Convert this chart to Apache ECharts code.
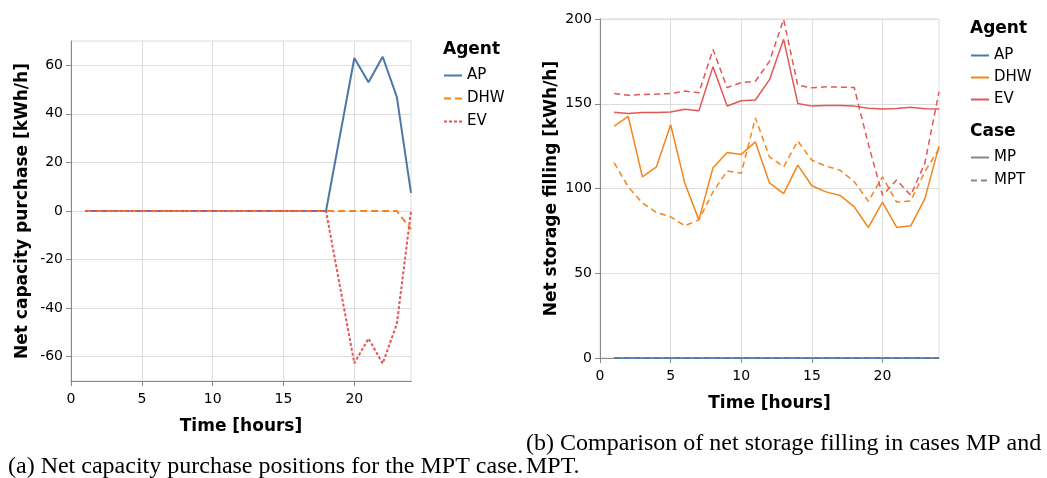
<!DOCTYPE html>
<html>
<head>
<meta charset="utf-8">
<script src="https://cdn.jsdelivr.net/npm/echarts@6/dist/echarts.min.js"></script>
<style>
  html, body { margin: 0; padding: 0; background: #fff; }
  #chart { width: 1047px; height: 478px; }
</style>
</head>
<body>
<div id="chart"></div>
<script>
// hours of the day
const hours = [1, 2, 3, 4, 5, 6, 7, 8, 9, 10, 11, 12, 13, 14, 15, 16, 17, 18, 19, 20, 21, 22, 23, 24];

// (a) net capacity purchase, MPT case
const apPurchase = [0, 0, 0, 0, 0, 0, 0, 0, 0, 0, 0, 0, 0, 0, 0, 0, 0, 0, 31.5, 63, 53, 63.5, 47, 7.5];
const dhwPurchase = [0, 0, 0, 0, 0, 0, 0, 0, 0, 0, 0, 0, 0, 0, 0, 0, 0, 0, 0, 0, 0, 0, 0, -7.5];
const evPurchase = [0, 0, 0, 0, 0, 0, 0, 0, 0, 0, 0, 0, 0, 0, 0, 0, 0, 0, -31.5, -62.7, -52.5, -62.8, -46.5, 0];

// (b) net storage filling, MP vs MPT
const apFillMP = [0, 0, 0, 0, 0, 0, 0, 0, 0, 0, 0, 0, 0, 0, 0, 0, 0, 0, 0, 0, 0, 0, 0, 0];
const apFillMPT = [0, 0, 0, 0, 0, 0, 0, 0, 0, 0, 0, 0, 0, 0, 0, 0, 0, 0, 0, 0, 0, 0, 0, 0];
const dhwFillMP = [136.8, 142.5, 106.9, 112.8, 137.6, 103.3, 81.5, 112.2, 121.2, 120.1, 127.5, 103.3, 97, 113.8, 101.6, 98, 95.9, 89.2, 77, 92, 77, 78, 94, 125];
const dhwFillMPT = [115.2, 101, 91.5, 85.8, 83.3, 78, 81.5, 98, 110.3, 109, 141.6, 118.7, 112.8, 128, 116.7, 113.2, 110.8, 104, 92.5, 106.9, 92, 92.7, 110, 123.5];
const evFillMP = [145, 144.2, 144.8, 144.9, 145.1, 146.8, 145.9, 171.9, 148.7, 151.8, 152.2, 164.2, 188, 150.2, 148.6, 149, 149, 148.6, 147.4, 146.9, 147.2, 148, 147, 146.9];
const evFillMPT = [156, 155, 155.5, 155.7, 156, 157.5, 156.5, 182, 159.5, 162.5, 163.3, 175, 199.8, 161, 159.4, 160, 159.8, 159.6, 126, 96, 105, 96, 115, 157];

const xTicks = [0, 5, 10, 15, 20];
const yTicksA = [-60, -40, -20, 0, 20, 40, 60];

const agents = ['AP', 'DHW', 'EV'];
const cases = ['MP', 'MPT'];
const colors = { AP: '#4c78a8', DHW: '#f58518', EV: '#e45756' };

const pairs = (vals) => hours.map((h, i) => [h, vals[i]]);

const font = 'DejaVu Sans';
const gridLine = '#ddd';
const axisGray = '#888';
const headStyle = { fontFamily: font, fontWeight: 'bold', fontSize: 17, color: '#000' };

function xAxisCfg(gridIndex) {
  return {
    type: 'value', gridIndex, min: 0, max: 24,
    name: 'Time [hours]', nameLocation: 'middle', nameGap: 37,
    nameTextStyle: headStyle,
    axisLine: { onZero: false, lineStyle: { color: axisGray, width: 1 } },
    axisTick: { length: 5, lineStyle: { color: axisGray }, customValues: xTicks },
    axisLabel: { fontFamily: font, fontSize: 14, color: '#000', margin: 11, customValues: xTicks },
    splitLine: { lineStyle: { color: gridLine, width: 1 } }
  };
}

function lineSeries(name, vals, color, type, width, axisIdx) {
  return {
    name, type: 'line', data: pairs(vals),
    xAxisIndex: axisIdx, yAxisIndex: axisIdx,
    symbol: 'none', clip: false, animation: false,
    itemStyle: { color },
    lineStyle: { color, width, type }
  };
}

function legendCfg(data, left, top, gap) {
  return {
    data, left, top, orient: 'vertical', padding: 0,
    itemWidth: 18, itemHeight: 14, itemGap: gap,
    itemStyle: { opacity: 0 },
    textStyle: { fontFamily: font, fontSize: 15, color: '#000' },
    selectedMode: false
  };
}

const chart = echarts.init(document.getElementById('chart'));

chart.setOption({
  backgroundColor: '#fff',
  animation: false,
  title: [
    { text: 'Agent', left: 443, top: 41, textStyle: headStyle, padding: 0 },
    { text: 'Agent', left: 970, top: 20, textStyle: headStyle, padding: 0 },
    { text: 'Case', left: 970, top: 123, textStyle: headStyle, padding: 0 },
    { text: '(a) Net capacity purchase positions for the MPT case.', left: 8, top: 455,
      textStyle: { fontFamily: 'Liberation Serif', fontWeight: 'normal', fontSize: 24, color: '#000' }, padding: 0 },
    { text: '(b) Comparison of net storage filling in cases MP and\nMPT.', left: 526, top: 432,
      textStyle: { fontFamily: 'Liberation Serif', fontWeight: 'normal', fontSize: 24, lineHeight: 23, color: '#000' }, padding: 0 }
  ],
  legend: [
    legendCfg(agents, 443, 68, 8),
    legendCfg(agents.map((a) => a + ' '), 970, 48, 7),
    legendCfg(cases, 970, 150, 8)
  ],
  grid: [
    { left: 71, top: 41, width: 340, height: 340, show: true, borderColor: gridLine, borderWidth: 1, containLabel: false },
    { left: 600, top: 19, width: 339, height: 339, show: true, borderColor: gridLine, borderWidth: 1, containLabel: false }
  ],
  xAxis: [xAxisCfg(0), xAxisCfg(1)],
  yAxis: [
    {
      type: 'value', gridIndex: 0, min: -70, max: 70,
      name: 'Net capacity purchase [kWh/h]', nameLocation: 'middle', nameGap: 40,
      nameTextStyle: headStyle,
      axisLine: { show: true, lineStyle: { color: axisGray, width: 1 } },
      axisTick: { show: true, length: 5, lineStyle: { color: axisGray }, customValues: yTicksA },
      axisLabel: { fontFamily: font, fontSize: 14, color: '#000', margin: 8, customValues: yTicksA },
      splitLine: { lineStyle: { color: gridLine, width: 1 } }
    },
    {
      type: 'value', gridIndex: 1, min: 0, max: 200, interval: 50,
      name: 'Net storage filling [kWh/h]', nameLocation: 'middle', nameGap: 40,
      nameTextStyle: headStyle,
      axisLine: { show: true, lineStyle: { color: axisGray, width: 1 } },
      axisTick: { show: true, length: 5, lineStyle: { color: axisGray } },
      axisLabel: { fontFamily: font, fontSize: 14, color: '#000', margin: 8 },
      splitLine: { lineStyle: { color: gridLine, width: 1 } }
    }
  ],
  series: [
    // (a)
    lineSeries('AP', apPurchase, colors.AP, 'solid', 2, 0),
    lineSeries('DHW', dhwPurchase, colors.DHW, [7, 4], 2, 0),
    lineSeries('EV', evPurchase, colors.EV, [3, 2], 2, 0),
    // (b)
    lineSeries('AP ', apFillMP, colors.AP, 'solid', 1.5, 1),
    lineSeries('AP ', apFillMPT, colors.AP, [6, 4], 1.5, 1),
    lineSeries('DHW ', dhwFillMP, colors.DHW, 'solid', 1.5, 1),
    lineSeries('DHW ', dhwFillMPT, colors.DHW, [6, 4], 1.5, 1),
    lineSeries('EV ', evFillMP, colors.EV, 'solid', 1.5, 1),
    lineSeries('EV ', evFillMPT, colors.EV, [6, 4], 1.5, 1),
    // case keys for the legend
    { name: 'MP', type: 'line', data: [], xAxisIndex: 1, yAxisIndex: 1, symbol: 'none',
      itemStyle: { color: '#888' }, lineStyle: { color: '#888', width: 2.5, type: 'solid' } },
    { name: 'MPT', type: 'line', data: [], xAxisIndex: 1, yAxisIndex: 1, symbol: 'none',
      itemStyle: { color: '#888' }, lineStyle: { color: '#888', width: 2.5, type: [6, 4] } }
  ]
});
</script>
</body>
</html>
